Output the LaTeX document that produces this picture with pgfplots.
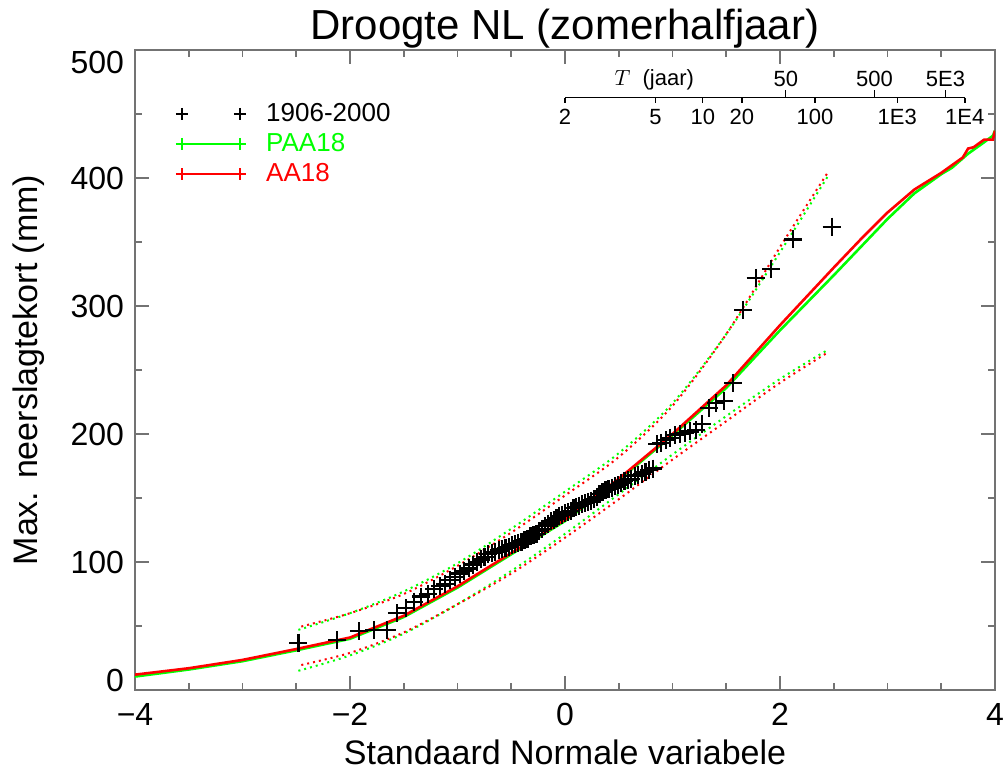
\documentclass[border=0pt]{standalone}
\usepackage{fontspec}
\setmainfont{Liberation Sans}
\usepackage{pgfplots}
\usepackage{pgfplotstable}
\pgfplotsset{compat=1.18}

\pgfplotstableread{
z y
-2.480 37
-2.120 39
-1.918 46
-1.774 47
-1.659 47
-1.563 60
-1.479 64
-1.405 69
-1.337 73
-1.275 75
-1.218 79
-1.165 81
-1.114 83
-1.067 86
-1.021 88
-0.978 91
-0.936 93
-0.896 95
-0.857 98
-0.820 100
-0.784 102
-0.748 104
-0.714 106
-0.681 107
-0.648 108
-0.616 109
-0.584 110
-0.553 111
-0.523 112
-0.493 113
-0.463 114
-0.434 115
-0.405 116
-0.377 117
-0.349 118
-0.321 120
-0.294 121
-0.266 122
-0.239 124
-0.212 126
-0.185 128
-0.159 130
-0.132 132
-0.105 133
-0.079 134
-0.053 136
-0.026 137
0.000 138
0.026 139
0.053 140
0.079 142
0.105 143
0.132 144
0.159 145
0.185 146
0.212 147
0.239 148
0.266 149
0.294 151
0.321 153
0.349 155
0.377 156
0.405 157
0.434 158
0.463 159
0.493 160
0.523 162
0.553 163
0.584 164
0.616 165
0.648 167
0.681 168
0.714 169
0.748 170
0.784 172
0.820 173
0.857 192
0.896 193
0.936 195
0.978 197
1.021 199
1.067 200
1.114 201
1.165 202
1.218 203
1.275 208
1.337 220
1.405 224
1.479 226
1.563 240
1.659 297
1.774 322
1.918 329
2.120 352
2.480 362
}\obs

\pgfplotstableread{
z y
-4.0 12
-3.5 17
-3.0 23.5
-2.5 32
-2.0 41
-1.5 58
-1.0 81
-0.5 107
0.0 133
0.5 165
1.0 200
1.5 238
2.0 285
2.5 330
2.75 352
3.0 373
3.25 391
3.5 404
3.6 410
3.7 416
3.75 423
3.8 424
3.9 430
3.98 430
4.0 437
}\redfit

\pgfplotstableread{
z y
-4.0 10.5
-3.5 16
-3.0 22.5
-2.5 31
-2.0 40
-1.5 57
-1.0 80
-0.5 106
0.0 132
0.5 164
1.0 199
1.5 236
2.0 281
2.5 324
2.75 346
3.0 368
3.25 388
3.5 403
3.6 408
3.75 419
3.9 428
3.98 433
4.0 437
}\greenfit

\pgfplotstableread{
z y
-2.48 49
-2.0 60
-1.5 75
-1.0 97
-0.5 123
0.0 152
0.5 182
1.0 222
1.5 278
2.0 346
2.45 405
}\redup

\pgfplotstableread{
z y
-2.48 47
-2.0 60
-1.5 77
-1.0 99
-0.5 126
0.0 155
0.5 185
1.0 224
1.5 278
2.0 342
2.45 402
}\greenup

\pgfplotstableread{
z y
-2.48 19
-2.0 29
-1.5 45
-1.0 67
-0.5 91
0.0 119
0.5 149
1.0 180
1.5 210
2.0 240
2.45 264
}\redlow

\pgfplotstableread{
z y
-2.48 15
-2.0 27
-1.5 44
-1.0 67
-0.5 93
0.0 122
0.5 153
1.0 184
1.5 214
2.0 243
2.45 266
}\greenlow

\begin{document}
\begin{tikzpicture}
\begin{axis}[
  scale only axis, width=430pt, height=320pt,
  xmin=-4, xmax=4, ymin=0, ymax=500,
  xtick={-4,-2,0,2,4}, xticklabels={−4,−2,0,2,4},
  ytick={0,100,200,300,400,500},
  yticklabels={\raisebox{5pt}[\height][\depth]{0},100,200,300,400,\raisebox{-6pt}[\height][\depth]{500}},
  minor x tick num=3, minor y tick num=1,
  tick align=inside,
  major tick length=7pt, minor tick length=3.5pt,
  axis line style={black!55, line width=0.9pt},
  every tick/.style={black!55, line width=0.8pt},
  tick label style={font=\fontsize{16}{18}\selectfont, black},
  xticklabel style={yshift=-3pt},
  yticklabel style={xshift=-2pt},
  xlabel={Standaard Normale variabele},
  ylabel={Max. neerslagtekort (mm)},
  label style={font=\fontsize{17}{20}\selectfont},
  xlabel style={at={(axis description cs:0.5,-0.097)}, anchor=center},
  ylabel style={at={(axis description cs:-0.124,0.5)}, anchor=center},
  title={Droogte NL (zomerhalfjaar)},
  every axis title shift=0pt,
  title style={font=\fontsize{21}{24}\selectfont, at={(axis description cs:0.5,1.034)}, anchor=center},
  legend style={at={(rel axis cs:0.04,0.93)}, anchor=north west, draw=none, fill=none,
    font=\fontsize{13}{15}\selectfont, row sep=0.5pt,
    nodes={inner sep=2pt}},
  legend cell align=left,
  clip=true,
]
% confidence bands
\addplot[green, line width=1pt, dash pattern=on 1pt off 2pt, smooth, forget plot] table[x=z,y=y] {\greenup};
\addplot[red, line width=1pt, dash pattern=on 1pt off 2pt, dash phase=1.5pt, smooth, forget plot] table[x=z,y=y] {\redup};
\addplot[green, line width=1pt, dash pattern=on 1pt off 2pt, smooth, forget plot] table[x=z,y=y] {\greenlow};
\addplot[red, line width=1pt, dash pattern=on 1pt off 2pt, dash phase=1.5pt, smooth, forget plot] table[x=z,y=y] {\redlow};
% fitted curves
\addplot[green, line width=1.3pt, forget plot] table[x=z,y=y] {\greenfit};
\addplot[red, line width=1.3pt, forget plot] table[x=z,y=y] {\redfit};
% observations
\addplot[only marks, mark=+, mark size=4.5pt, black, line width=1.1pt, forget plot] table[x=z,y=y] {\obs};

% legend
\addlegendimage{legend image code/.code={\draw[black,line width=0.8pt] plot[mark=+,mark size=3pt,only marks] coordinates{(0pt,0pt) (29pt,0pt)}; \path (40pt,0pt);}}
\addlegendentry{1906-2000}
\addlegendimage{legend image code/.code={\draw[green,line width=1pt] plot[mark=+,mark size=3pt] coordinates{(0pt,0pt) (29pt,0pt)}; \path (40pt,0pt);}}
\addlegendentry{\textcolor{green}{PAA18}}
\addlegendimage{legend image code/.code={\draw[red,line width=1pt] plot[mark=+,mark size=3pt] coordinates{(0pt,0pt) (29pt,0pt)}; \path (40pt,0pt);}}
\addlegendentry{\textcolor{red}{AA18}}

% return period axis
\draw[black, line width=0.7pt] (axis cs:0,462.7) -- (axis cs:3.719,462.7);
\draw[black, line width=0.7pt] (axis cs:0,462.7) -- (axis cs:0,458.3);
\draw[black, line width=0.7pt] (axis cs:0.8416,462.7) -- (axis cs:0.8416,458.3);
\draw[black, line width=0.7pt] (axis cs:1.2816,462.7) -- (axis cs:1.2816,458.3);
\draw[black, line width=0.7pt] (axis cs:1.6449,462.7) -- (axis cs:1.6449,458.3);
\draw[black, line width=0.7pt] (axis cs:2.3263,462.7) -- (axis cs:2.3263,458.3);
\draw[black, line width=0.7pt] (axis cs:3.0902,462.7) -- (axis cs:3.0902,458.3);
\draw[black, line width=0.7pt] (axis cs:3.7190,462.7) -- (axis cs:3.7190,458.3);
\draw[black, line width=0.7pt] (axis cs:2.0537,462.7) -- (axis cs:2.0537,468.7);
\draw[black, line width=0.7pt] (axis cs:2.8782,462.7) -- (axis cs:2.8782,468.7);
\draw[black, line width=0.7pt] (axis cs:3.5401,462.7) -- (axis cs:3.5401,468.7);
\begin{scope}[every node/.style={font=\fontsize{11}{13}\selectfont, inner sep=0pt}]
\node at (axis cs:0,448) {2};
\node at (axis cs:0.8416,448) {5};
\node at (axis cs:1.2816,448) {10};
\node at (axis cs:1.6449,448) {20};
\node at (axis cs:2.3263,448) {100};
\node at (axis cs:3.0902,448) {1E3};
\node at (axis cs:3.7190,448) {1E4};
\node at (axis cs:2.0537,477) {50};
\node at (axis cs:2.8782,477) {500};
\node at (axis cs:3.5401,477) {5E3};
\node at (axis cs:0.83,477) {$T$\ \ (jaar)};
\end{scope}
\end{axis}
\pgfresetboundingbox
\path[use as bounding box] ([shift={(-67.5pt,-42pt)}]current axis.south west) rectangle ([shift={(6pt,25pt)}]current axis.north east);
\end{tikzpicture}
\end{document}
